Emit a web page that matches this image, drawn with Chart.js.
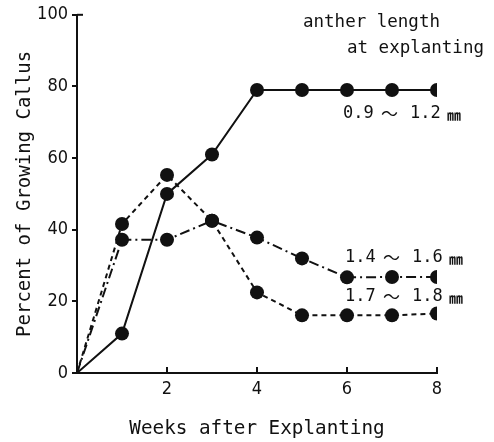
<!DOCTYPE html>
<html><head><meta charset="utf-8">
<script src="https://cdn.jsdelivr.net/npm/chart.js@4"></script>
<style>html,body{margin:0;padding:0;background:#fff}#wrap{width:494px;height:442px}</style>
</head><body><div id="wrap"><canvas id="c" width="494" height="442"></canvas></div>
<script>
const weeks = [0, 1, 2, 3, 4, 5, 6, 7, 8];
const s09_12 = [0, 11, 50, 61, 79, 79, 79, 79, 79];
const s14_16 = [0, 37.2, 37.2, 42.5, 37.8, 32, 26.7, 26.8, 26.8];
const s17_18 = [0, 41.6, 55.3, 42.5, 22.5, 16.1, 16.1, 16.1, 16.6];
const seriesLabels = ['0.9 ～ 1.2 ㎜', '1.4 ～ 1.6 ㎜', '1.7 ～ 1.8 ㎜'];
const xTicks = [2, 4, 6, 8];
const yTicks = [0, 20, 40, 60, 80, 100];

const mono = '"DejaVu Sans Mono", "Liberation Mono", monospace';
const narrow = '"Liberation Sans Narrow", "DejaVu Sans Condensed", "Liberation Sans", sans-serif';
const toXY = arr => arr.map((v, i) => ({x: weeks[i], y: v}));
const rad = c => c.dataIndex === 0 ? 0 : 7;

const annot = {
  id: 'annot',
  afterDraw(chart) {
    const ctx = chart.ctx, xs = chart.scales.x, ys = chart.scales.y, a = chart.chartArea;
    ctx.save();
    ctx.strokeStyle = '#111'; ctx.lineWidth = 2;
    xTicks.forEach(t => {
      const px = xs.getPixelForValue(t);
      ctx.beginPath(); ctx.moveTo(px, a.bottom); ctx.lineTo(px, a.bottom - 6); ctx.stroke();
    });
    ctx.beginPath(); ctx.moveTo(a.left, ys.getPixelForValue(100)); ctx.lineTo(a.left + 6, ys.getPixelForValue(100)); ctx.stroke();
    ctx.fillStyle = '#111';
    ctx.textBaseline = 'middle'; ctx.textAlign = 'left';
    ctx.font = '17.5px ' + mono;
    ctx.fillText('anther length', 303, 22);
    ctx.fillText('at explanting', 347, 48);
    const drawLab = (txt, x, y) => {
      const parts = txt.split(' ');
      ctx.font = '17px ' + mono;
      ctx.fillText(parts[0], x, y);
      ctx.font = '17px "Noto Sans CJK JP", ' + mono;
      ctx.fillText(parts[1], x + 38, y);
      ctx.font = '17px ' + mono;
      ctx.fillText(parts[2], x + 67, y);
      ctx.font = 'bold 14px "Noto Sans CJK JP", ' + mono;
      ctx.fillText(parts[3], x + 104, y + 1);
    };
    drawLab(seriesLabels[0], 343, 114);
    drawLab(seriesLabels[1], 345, 258);
    drawLab(seriesLabels[2], 345, 297);
    ctx.restore();
  }
};

new Chart(document.getElementById('c'), {
  type: 'line',
  data: {
    datasets: [
      {label: seriesLabels[0], data: toXY(s09_12), borderColor: '#111', backgroundColor: '#111', borderWidth: 2, pointRadius: rad, pointBackgroundColor: '#111', pointBorderWidth: 0},
      {label: seriesLabels[1], data: toXY(s14_16), borderColor: '#111', backgroundColor: '#111', borderWidth: 2, borderDash: [10, 4, 2, 4], pointRadius: rad, pointBorderWidth: 0},
      {label: seriesLabels[2], data: toXY(s17_18), borderColor: '#111', backgroundColor: '#111', borderWidth: 2, borderDash: [5, 4], pointRadius: rad, pointBorderWidth: 0}
    ]
  },
  options: {
    responsive: false, animation: false,
    layout: {padding: {left: 0, top: 13, right: 57, bottom: 0}},
    plugins: {legend: {display: false}, tooltip: {enabled: false}},
    scales: {
      x: {
        type: 'linear', min: 0, max: 8,
        afterBuildTicks: s => { s.ticks = xTicks.map(v => ({value: v})); },
        afterFit: s => { s.height = 69; },
        grid: {drawOnChartArea: false, drawTicks: false},
        border: {display: true, color: '#111', width: 2},
        ticks: {color: '#111', padding: 6, maxRotation: 0, font: {family: narrow, size: 18}},
        title: {display: true, text: 'Weeks after Explanting', color: '#111', font: {family: mono, size: 19.3, lineHeight: 1.2}, padding: {bottom: 1, top: 0}}
      },
      y: {
        min: 0, max: 100,
        afterBuildTicks: s => { s.ticks = yTicks.map(v => ({value: v})); },
        afterFit: s => { s.width = 77; },
        grid: {drawOnChartArea: false, drawTicks: true, tickLength: 5, color: '#111', lineWidth: 2},
        border: {display: true, color: '#111', width: 2},
        ticks: {color: '#111', padding: 4, font: {family: narrow, size: 18}},
        title: {display: true, text: 'Percent of Growing Callus', color: '#111', font: {family: mono, size: 19, lineHeight: 1.2}, padding: {top: 14, bottom: 0}}
      }
    }
  },
  plugins: [annot]
});
</script>
</body></html>
